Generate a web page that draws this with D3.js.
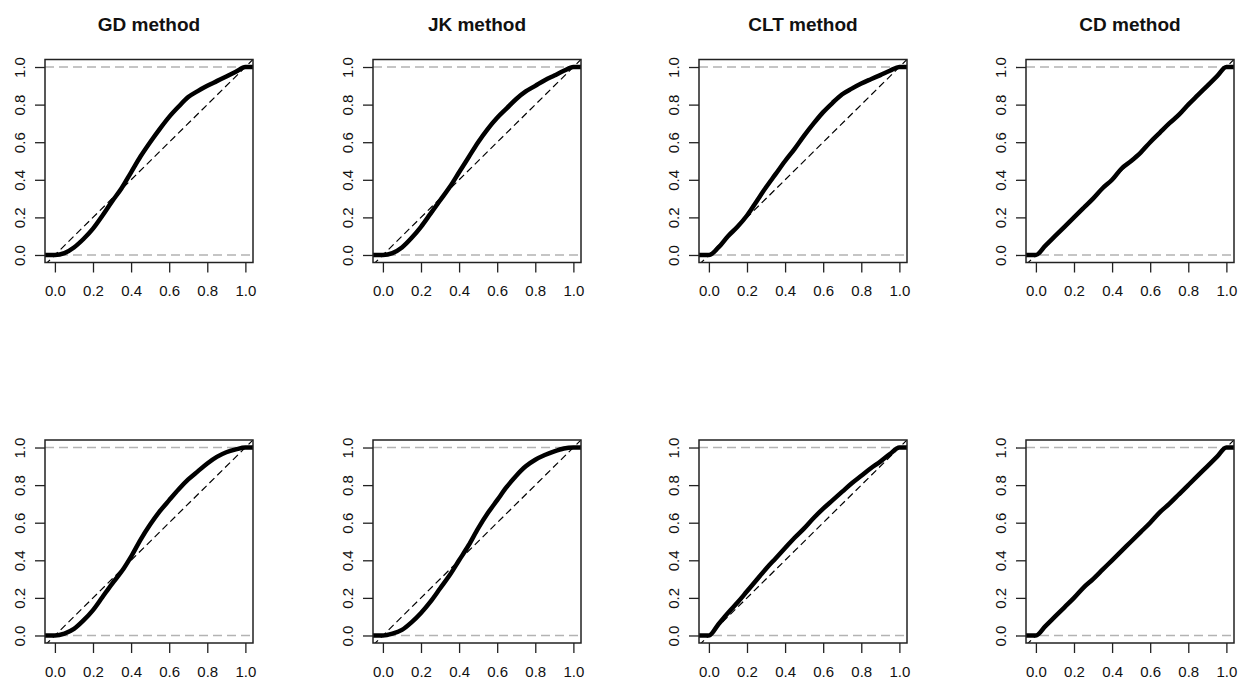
<!DOCTYPE html>
<html>
<head>
<meta charset="utf-8">
<script src="https://cdn.jsdelivr.net/npm/d3@7"></script>
<style>
  body { margin: 0; background: #fff; }
  text { font-family: "Liberation Sans", Arial, sans-serif; fill: #111; }
</style>
</head>
<body>
<div id="chart"></div>
<script>
// titles of the four columns
const methods = ["GD method", "JK method", "CLT method", "CD method"];

const xGrid = [0, 0.05, 0.1, 0.15, 0.2, 0.25, 0.3, 0.35, 0.4, 0.45, 0.5,
               0.55, 0.6, 0.65, 0.7, 0.75, 0.8, 0.85, 0.9, 0.95, 1.0];

// top row
const gdTop  = [0, 0.01, 0.04, 0.085, 0.14, 0.21, 0.285, 0.355, 0.44, 0.525, 0.60,
                0.67, 0.735, 0.79, 0.84, 0.872, 0.90, 0.925, 0.95, 0.975, 1.0];
const jkTop  = [0, 0.01, 0.04, 0.09, 0.15, 0.22, 0.29, 0.36, 0.44, 0.52, 0.60,
                0.67, 0.73, 0.78, 0.83, 0.87, 0.90, 0.93, 0.955, 0.98, 1.0];
const cltTop = [0, 0.04, 0.10, 0.15, 0.21, 0.285, 0.36, 0.43, 0.50, 0.565, 0.635,
                0.70, 0.76, 0.81, 0.855, 0.885, 0.912, 0.935, 0.957, 0.98, 1.0];
const cdTop  = [0, 0.05, 0.10, 0.15, 0.20, 0.25, 0.30, 0.355, 0.40, 0.46, 0.50,
                0.545, 0.60, 0.65, 0.70, 0.745, 0.80, 0.85, 0.90, 0.95, 1.0];

// bottom row
const gdBot  = [0, 0.01, 0.035, 0.08, 0.135, 0.205, 0.275, 0.34, 0.42, 0.51, 0.59,
                0.66, 0.72, 0.778, 0.83, 0.873, 0.915, 0.95, 0.975, 0.99, 1.0];
const jkBot  = [0, 0.01, 0.03, 0.07, 0.12, 0.18, 0.25, 0.32, 0.40, 0.48, 0.57,
                0.65, 0.72, 0.79, 0.85, 0.90, 0.935, 0.96, 0.98, 0.995, 1.0];
const cltBot = [0, 0.06, 0.12, 0.175, 0.235, 0.295, 0.355, 0.41, 0.465, 0.52, 0.57,
                0.625, 0.675, 0.72, 0.765, 0.81, 0.85, 0.89, 0.925, 0.965, 1.0];
const cdBot  = [0, 0.05, 0.10, 0.15, 0.20, 0.255, 0.30, 0.35, 0.40, 0.45, 0.50,
                0.55, 0.60, 0.655, 0.70, 0.75, 0.80, 0.85, 0.90, 0.95, 1.0];

const tickValues = [0, 0.2, 0.4, 0.6, 0.8, 1.0];

const rows = [[gdTop, jkTop, cltTop, cdTop], [gdBot, jkBot, cltBot, cdBot]];

const W = 1241, H = 687;
const colLeft = [45, 373, 699, 1026];
const rowTop = [59.5, 440];
const boxW = 208, boxH = 203;

const svg = d3.select("#chart").append("svg")
    .attr("width", W)
    .attr("height", H);

const x = d3.scaleLinear().domain([-0.052, 1.04]).range([0, boxW]);
const y = d3.scaleLinear().domain([-0.04, 1.04]).range([boxH, 0]);
const fmt = d3.format(".1f");

const line = d3.line()
    .x(d => x(d[0]))
    .y(d => y(d[1]))
    .curve(d3.curveMonotoneX);

rows.forEach((series, r) => {
    series.forEach((vals, c) => {
        const g = svg.append("g")
            .attr("transform", `translate(${colLeft[c]},${rowTop[r]})`);
        const clipId = `clip-${r}-${c}`;
        g.append("clipPath").attr("id", clipId)
            .append("rect").attr("width", boxW).attr("height", boxH);

        const plot = g.append("g").attr("clip-path", `url(#${clipId})`);

        // grey dashed lines at 0 and 1
        plot.selectAll(".hl").data([0, 1]).enter().append("line")
            .attr("x1", 0).attr("x2", boxW)
            .attr("y1", d => y(d)).attr("y2", d => y(d))
            .attr("stroke", "#b3b3b3")
            .attr("stroke-width", 1.4)
            .attr("stroke-dasharray", "9,5");

        // diagonal reference line
        const dom = x.domain();
        plot.append("line")
            .attr("x1", x(dom[0])).attr("y1", y(dom[0]))
            .attr("x2", x(dom[1])).attr("y2", y(dom[1]))
            .attr("stroke", "#000")
            .attr("stroke-width", 1.2)
            .attr("stroke-dasharray", "7,4");

        // ECDF curve with flat tails out to the box
        const pts = [[dom[0], 0]].concat(xGrid.map((xv, i) => [xv, vals[i]]), [[dom[1], 1]]);
        plot.append("path")
            .datum(pts)
            .attr("fill", "none")
            .attr("stroke", "#000")
            .attr("stroke-width", 4.5)
            .attr("stroke-linejoin", "round")
            .attr("d", line);

        // box
        g.append("rect")
            .attr("width", boxW).attr("height", boxH)
            .attr("fill", "none")
            .attr("stroke", "#222")
            .attr("stroke-width", 1.5);

        // axes
        const xa = g.append("g")
            .attr("transform", `translate(0,${boxH})`)
            .call(d3.axisBottom(x).tickValues(tickValues).tickFormat(fmt)
                .tickSize(10).tickPadding(13));
        const ya = g.append("g")
            .call(d3.axisLeft(y).tickValues(tickValues).tickFormat(fmt).tickSize(10));
        [xa, ya].forEach(a => {
            a.select(".domain").remove();
            a.selectAll("line").attr("stroke", "#222").attr("stroke-width", 1.3);
            a.selectAll("text").style("font-size", "15px").attr("fill", "#111");
        });
        ya.selectAll("text")
            .attr("x", 0).attr("y", -20).attr("dy", 0)
            .attr("text-anchor", "middle")
            .attr("transform", "rotate(-90)");

        if (r === 0) {
            svg.append("text")
                .attr("x", colLeft[c] + boxW / 2)
                .attr("y", 31)
                .attr("text-anchor", "middle")
                .style("font-size", "19px")
                .style("font-weight", "bold")
                .text(methods[c]);
        }
    });
});
</script>
</body>
</html>
